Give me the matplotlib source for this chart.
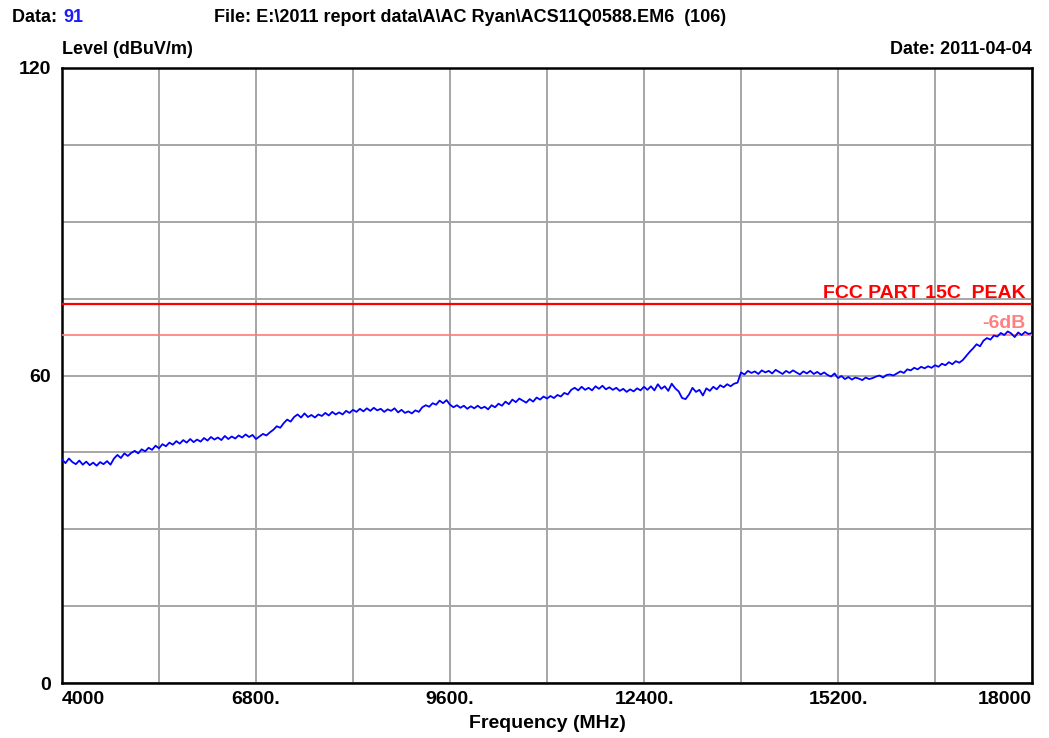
import numpy as np
import matplotlib
matplotlib.use('Agg')
import matplotlib.pyplot as plt
from matplotlib.ticker import FixedLocator, MultipleLocator

plt.rcParams['font.family'] = ['Liberation Sans', 'DejaVu Sans']
plt.rcParams['font.weight'] = 'bold'

# sweep 4000..18000 MHz, one reading every 50 MHz
f_start, f_stop, f_step = 4000, 18000, 50
level = [
    43.6, 42.9, 43.8, 43.1, 42.7, 43.4, 42.6, 43.2, 42.5, 43.0,
    42.4, 43.1, 42.7, 43.3, 42.6, 43.8, 44.5, 43.9, 44.8, 44.3,
    44.9, 45.3, 44.8, 45.6, 45.2, 45.9, 45.5, 46.3, 45.8, 46.6,
    46.2, 46.9, 46.5, 47.2, 46.7, 47.4, 46.9, 47.6, 47.0, 47.5,
    47.1, 47.8, 47.3, 48.0, 47.5, 47.9, 47.4, 48.2, 47.6, 48.1,
    47.7, 48.3, 47.9, 48.5, 48.0, 48.4, 47.6, 48.1, 48.6, 48.3,
    48.9, 49.4, 50.1, 49.8, 50.7, 51.4, 51.0, 51.9, 52.4, 51.8,
    52.6, 51.9, 52.3, 51.8, 52.4, 52.1, 52.7, 52.2, 52.9, 52.4,
    52.8, 52.4, 53.1, 52.7, 53.3, 52.9, 53.5, 53.0, 53.6, 53.1,
    53.7, 53.2, 53.5, 52.9, 53.4, 53.1, 53.6, 52.8, 53.3, 52.7,
    53.0, 52.6, 53.2, 52.9, 53.8, 54.2, 53.9, 54.6, 54.3, 55.1,
    54.6, 55.2, 54.3, 53.8, 54.2, 53.7, 54.1, 53.5, 54.0, 53.6,
    54.1, 53.6, 53.9, 53.4, 54.2, 53.8, 54.5, 54.1, 54.9, 54.4,
    55.3, 54.8, 55.5, 55.1, 54.7, 55.4, 54.9, 55.7, 55.3, 55.9,
    55.5, 56.0, 55.6, 56.2, 55.9, 56.6, 56.3, 57.2, 57.6, 57.1,
    57.8, 57.2, 57.6, 57.1, 57.9, 57.4, 58.0, 57.3, 57.7, 57.2,
    57.6, 57.0, 57.4, 56.8, 57.3, 56.9, 57.5, 57.1, 57.8, 57.2,
    57.9, 57.1, 58.3, 57.4, 57.9, 57.0, 58.4, 57.5, 56.9, 55.6,
    55.4, 56.3, 57.6, 56.8, 57.2, 56.1, 57.5, 57.0, 57.8, 57.3,
    58.1, 57.7, 58.3, 57.9, 58.4, 58.6, 60.6, 60.2, 60.9, 60.5,
    60.8, 60.3, 61.0, 60.6, 60.9, 60.4, 61.1, 60.7, 60.3, 60.9,
    60.5, 61.0, 60.6, 60.2, 60.8, 60.4, 60.9, 60.3, 60.7, 60.2,
    60.6, 60.1, 59.8, 60.4, 59.5, 59.9, 59.3, 59.7, 59.2, 59.6,
    59.4, 59.1, 59.6, 59.3, 59.5, 59.8, 60.0, 59.6, 60.1, 60.2,
    60.0, 60.4, 60.8, 60.5, 61.2, 61.0, 61.5, 61.2, 61.7, 61.4,
    61.8, 61.5, 62.0, 61.7, 62.3, 62.0, 62.6, 62.2, 62.8, 62.5,
    63.0, 63.8, 64.6, 65.3, 66.1, 65.7, 66.8, 67.3, 67.0, 67.8,
    67.6, 68.3, 67.9, 68.6, 68.2, 67.5, 68.4, 67.9, 68.5, 68.1,
    68.3,
]
freq = np.arange(f_start, f_stop + f_step, f_step)

limit_peak = 74
limit_margin = 68

xticks = [4000, 6800, 9600, 12400, 15200, 18000]
xtick_labels = ['4000', '6800.', '9600.', '12400.', '15200.', '18000']
yticks = [0, 60, 120]

fig = plt.figure(figsize=(10.49, 7.38), dpi=100)
ax = fig.add_axes([62/1049, 1 - 683/738, 970/1049, 615/738])

# limit lines
ax.axhline(limit_peak, color='#ff0000', lw=1.6, zorder=3)
ax.axhline(limit_margin, color='#ff7a7a', lw=1.2, zorder=3)
ax.text(0.993, limit_peak + 0.4, 'FCC PART 15C  PEAK', color='#ff0000',
        fontsize=14, fontweight='bold', ha='right', va='bottom',
        transform=ax.get_yaxis_transform())
ax.text(0.993, limit_margin + 0.4, '-6dB', color='#ff8080',
        fontsize=14, fontweight='bold', ha='right', va='bottom',
        transform=ax.get_yaxis_transform())

# measured trace
ax.plot(freq, level, color='#0000ff', lw=1.3, zorder=4)

ax.set_xlim(f_start, f_stop)
ax.set_ylim(0, 120)

# grid: 10 columns x 8 rows
ax.xaxis.set_minor_locator(FixedLocator(np.arange(f_start, f_stop + 1, 1400)))
ax.yaxis.set_minor_locator(MultipleLocator(15))
ax.grid(which='both', color='#a6a6a6', lw=1.4)
ax.set_axisbelow(True)

ax.set_xticks(xticks)
ax.set_xticklabels(xtick_labels)
ax.set_yticks(yticks)
ax.tick_params(which='both', length=0)
ax.tick_params(axis='x', labelsize=14, pad=6)
ax.tick_params(axis='y', labelsize=14, pad=8)
labels = ax.get_xticklabels()
labels[0].set_ha('left')
labels[-1].set_ha('right')
for t in ax.get_xticklabels() + ax.get_yticklabels():
    t.set_fontweight('bold')

for s in ax.spines.values():
    s.set_linewidth(1.8)

ax.set_xlabel('Frequency (MHz)', fontsize=14, fontweight='bold', labelpad=5)

# header texts
fig.text(12/1049, 1 - 18/738, 'Data: ', fontsize=13, fontweight='bold', va='center')
fig.text(63/1049, 1 - 18/738, '91', fontsize=13, fontweight='bold', va='center', color='#1a1aff')
fig.text(214/1049, 1 - 18/738, 'File: E:\\2011 report data\\A\\AC Ryan\\ACS11Q0588.EM6  (106)',
         fontsize=13, fontweight='bold', va='center')
fig.text(62/1049, 1 - 49/738, 'Level (dBuV/m)', fontsize=13, fontweight='bold', va='center')
fig.text(1032/1049, 1 - 49/738, 'Date: 2011-04-04', fontsize=13, fontweight='bold',
         va='center', ha='right')

fig.savefig('out.png', dpi=100)
